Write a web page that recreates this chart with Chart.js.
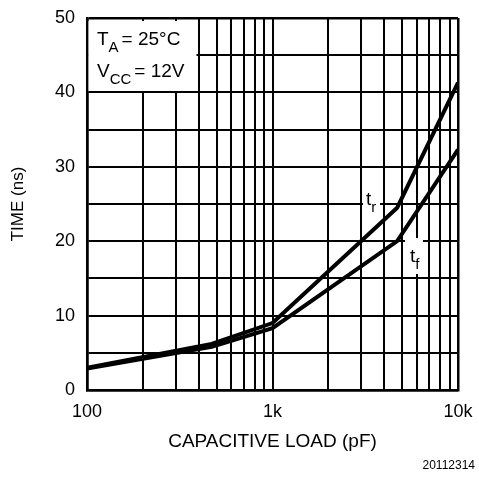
<!DOCTYPE html>
<html>
<head>
<meta charset="utf-8">
<script src="https://cdn.jsdelivr.net/npm/chart.js@4"></script>
<style>
  html, body { margin: 0; padding: 0; background: #fff; }
  #wrap { width: 479px; height: 479px; }
</style>
</head>
<body>
<div id="wrap"><canvas id="c" width="479" height="479"></canvas></div>
<script>
// 読み取り値(pF, ns)
const loadPf = [100, 470, 1000, 4700, 10000];
const riseNs = [3.0, 6.2, 9.0, 24.5, 41.3];
const fallNs = [2.9, 5.8, 8.3, 20.0, 32.3];
const xGridPf = [100, 200, 300, 400, 500, 600, 700, 800, 900,
  1000, 2000, 3000, 4000, 5000, 6000, 7000, 8000, 9000, 10000];
const xTickLabels = { 100: '100', 1000: '1k', 10000: '10k' };
const yTickLabels = [0, 10, 20, 30, 40, 50];

const FONT = 'Liberation Sans, Arial, sans-serif';

const pts = (ys) => loadPf.map((x, i) => ({ x, y: ys[i] }));

// 凡例ボックスと曲線ラベル(白抜き)を格子の上、曲線の下に描く
const notes = {
  id: 'notes',
  beforeDatasetsDraw(chart) {
    const ctx = chart.ctx;
    const a = chart.chartArea;
    ctx.save();
    ctx.fillStyle = '#fff';
    ctx.fillRect(a.left + 1.5, a.top + 3, 108, 70);
    ctx.fillRect(363, 190, 17, 24);
    ctx.fillRect(405, 238, 18, 36);
    ctx.fillStyle = '#000';
    ctx.textBaseline = 'alphabetic';
    ctx.textAlign = 'left';
    const sub = (x, y, main, s, rest) => {
      ctx.font = '19px ' + FONT;
      ctx.fillText(main, x, y);
      let w = ctx.measureText(main).width;
      ctx.font = '15px ' + FONT;
      ctx.fillText(s, x + w, y + 7);
      w += ctx.measureText(s).width;
      if (rest) {
        ctx.font = '19px ' + FONT;
        ctx.fillText(rest, x + w + 3, y);
      }
    };
    sub(97, 45, 'T', 'A', '= 25°C');
    sub(97, 77, 'V', 'CC', '= 12V');
    sub(366, 205, 't', 'r');
    sub(410, 262, 't', 'f');
    ctx.restore();
  },
  afterDraw(chart) {
    const ctx = chart.ctx;
    ctx.save();
    ctx.fillStyle = '#000';
    ctx.font = '12px ' + FONT;
    ctx.textAlign = 'right';
    ctx.textBaseline = 'middle';
    ctx.fillText('20112314', 475, 466);
    ctx.restore();
  }
};

const edge = (n) => (ctx) => (ctx.index === 0 || ctx.index === n - 1 ? 2.5 : 2);

new Chart(document.getElementById('c'), {
  type: 'line',
  data: {
    datasets: [
      { label: 'tr', data: pts(riseNs) },
      { label: 'tf', data: pts(fallNs) }
    ]
  },
  options: {
    responsive: false,
    animation: false,
    layout: { padding: { top: 18, right: 21, left: 0, bottom: 0 } },
    elements: {
      line: { borderColor: '#000', borderWidth: 4, tension: 0, fill: false },
      point: { radius: 0 }
    },
    plugins: { legend: { display: false }, tooltip: { enabled: false } },
    scales: {
      x: {
        type: 'logarithmic',
        min: 100,
        max: 10000,
        afterFit: (s) => { s.height = 89; s.paddingLeft = 0; s.paddingRight = 0; },
        afterBuildTicks: (s) => { s.ticks = xGridPf.map((v) => ({ value: v })); },
        grid: { color: '#000', lineWidth: edge(xGridPf.length), drawTicks: false },
        border: { color: '#000', width: 2.5 },
        ticks: {
          autoSkip: false,
          maxRotation: 0,
          padding: 11,
          color: '#000',
          font: { family: FONT, size: 18 },
          callback: (v) => xTickLabels[v] || ''
        },
        title: {
          display: true,
          text: 'CAPACITIVE LOAD (pF)',
          color: '#000',
          font: { family: FONT, size: 19 },
          padding: { top: 0, bottom: 26 }
        }
      },
      y: {
        min: 0,
        max: 50,
        afterFit: (s) => { s.width = 87; s.paddingTop = 0; s.paddingBottom = 0; },
        grid: { color: '#000', lineWidth: edge(11), drawTicks: false },
        border: { color: '#000', width: 2.5 },
        ticks: {
          stepSize: 5,
          padding: 12,
          color: '#000',
          font: { family: FONT, size: 18 },
          callback: (v) => (yTickLabels.includes(v) ? String(v) : '')
        },
        title: {
          display: true,
          text: 'TIME (ns)',
          color: '#000',
          font: { family: FONT, size: 17 },
          padding: { top: 8, bottom: 0 }
        }
      }
    }
  },
  plugins: [notes]
});
</script>
</body>
</html>
